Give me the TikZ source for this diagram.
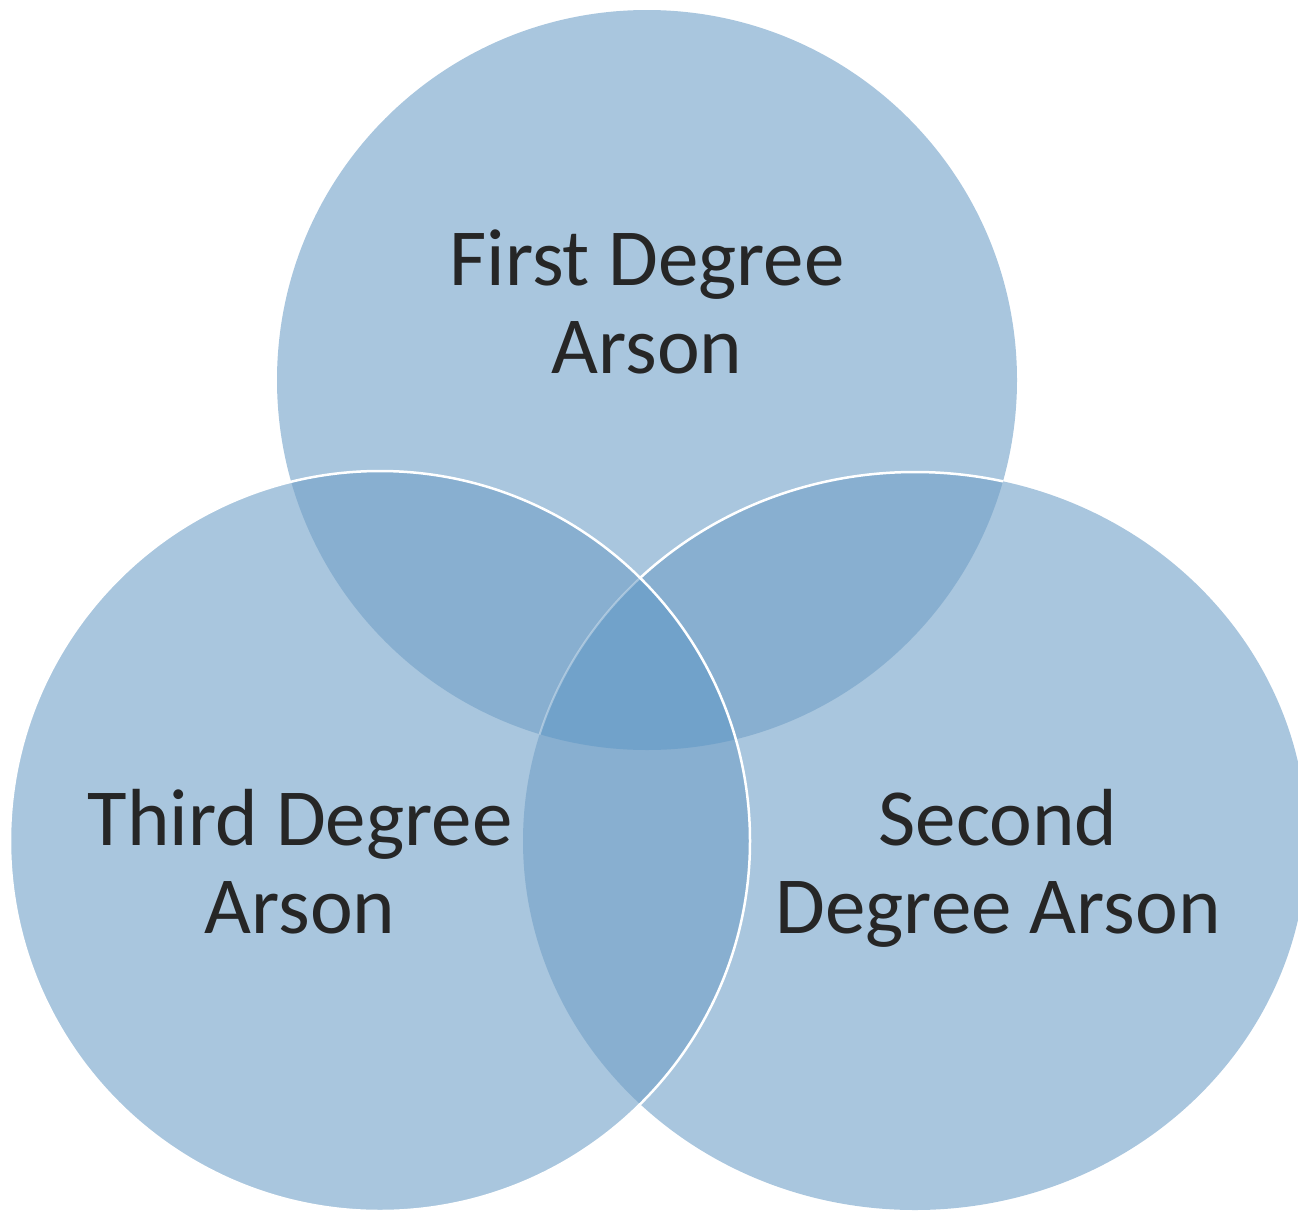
\documentclass[tikz,border=0pt]{standalone}
\usepackage{fontspec}
\setmainfont{Carlito}
\definecolor{one}{HTML}{A9C6DE}
\definecolor{two}{HTML}{88AFD0}
\definecolor{three}{HTML}{71A2CA}
\definecolor{ink}{HTML}{262626}
\begin{document}
\begin{tikzpicture}[x=1pt,y=-1pt,
  lbl/.style={font=\fontsize{81}{88}\selectfont, text=ink, align=center, inner sep=0pt},
  rim/.style={draw=white, line width=2.5pt}]
\def\CT{(647,380) circle [radius=370]}
\def\CR{(915,841) ellipse [x radius=392, y radius=369]}
\def\CL{(380,841) circle [radius=370]}
\useasboundingbox (0,0) rectangle (1298,1210);
% single regions
\fill[one] \CT;
\fill[one] \CR;
\fill[one] \CL;
% pairwise overlaps
\begin{scope}
  \clip \CT;
  \fill[two] \CR;
\end{scope}
\begin{scope}
  \clip \CR;
  \fill[two] \CL;
\end{scope}
% outline of the right circle over the top circle
\begin{scope}
  \clip \CT;
  \path[rim] \CR;
\end{scope}
% top and left overlap, drawn over that outline
\begin{scope}
  \clip \CT;
  \fill[two] \CL;
\end{scope}
% triple overlap
\begin{scope}
  \clip \CT;
  \clip \CR;
  \fill[three] \CL;
\end{scope}
\begin{scope}
  \clip \CT;
  \clip \CL;
  \path[rim, draw opacity=0.35, line width=2pt] \CR;
\end{scope}
% outline of the left circle
\path[rim] \CL;
% labels (anchor base = baseline of the last line)
\node[lbl, anchor=base] (first) at (647,373) {First Degree\\Arson};
\node[lbl, anchor=base] (third) at (300,933) {Third Degree\\Arson};
\node[lbl, anchor=base] (second) at (998,933) {Second\\Degree Arson};
\end{tikzpicture}
\end{document}
